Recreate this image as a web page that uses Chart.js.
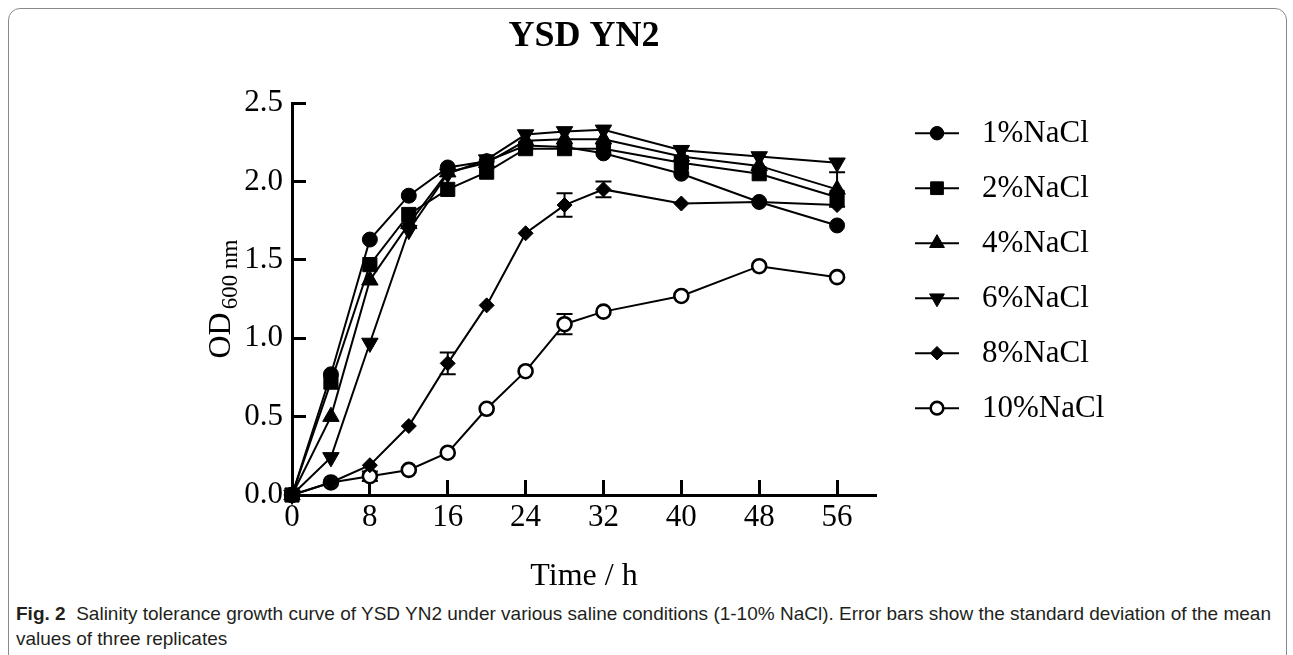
<!DOCTYPE html>
<html>
<head>
<meta charset="utf-8">
<script src="https://cdn.jsdelivr.net/npm/chart.js@4.4.1/dist/chart.umd.min.js"></script>
<style>
  html, body { margin:0; padding:0; background:#fff; }
  body { width:1293px; height:655px; position:relative; overflow:hidden; }
  #frame { position:absolute; left:8px; top:8px; width:1279px; height:700px; border:1.5px solid #8a8a8a; border-radius:12px; box-sizing:border-box; }
  #wrap { position:absolute; left:0; top:0; width:1293px; height:600px; }
  #cap { position:absolute; left:16px; top:601px; font-family:'Liberation Sans', Arial, sans-serif; font-size:19px; line-height:25px; color:#231f20; white-space:nowrap; }
</style>
</head>
<body>
<div id="frame"></div>
<div id="wrap"><canvas id="c"></canvas></div>
<div id="cap"><b>Fig. 2</b>&nbsp; Salinity tolerance growth curve of YSD YN2 under various saline conditions (1-10% NaCl). Error bars show the standard deviation of the mean<br>values of three replicates</div>
<script>
// ---- data ----
const hours = [0, 4, 8, 12, 16, 20, 24, 28, 32, 40, 48, 56];
const seriesNames = ['1%NaCl', '2%NaCl', '4%NaCl', '6%NaCl', '8%NaCl', '10%NaCl'];
const od1  = [0, 0.77, 1.63, 1.91, 2.09, 2.13, 2.23, 2.22, 2.18, 2.05, 1.87, 1.72];
const od2  = [0, 0.72, 1.47, 1.79, 1.95, 2.06, 2.21, 2.21, 2.21, 2.12, 2.05, 1.90];
const od4  = [0, 0.50, 1.37, 1.73, 2.06, 2.12, 2.26, 2.27, 2.27, 2.16, 2.10, 1.95];
const od6  = [0, 0.24, 0.97, 1.69, 2.05, 2.14, 2.30, 2.32, 2.33, 2.20, 2.16, 2.12];
const od8  = [0, 0.08, 0.19, 0.44, 0.84, 1.21, 1.67, 1.85, 1.95, 1.86, 1.87, 1.85];
const od10 = [0, 0.08, 0.12, 0.16, 0.27, 0.55, 0.79, 1.09, 1.17, 1.27, 1.46, 1.39];
const err4  = [0, 0, 0, 0, 0, 0, 0, 0, 0, 0, 0, 0.11];
const err8  = [0, 0, 0, 0, 0.07, 0, 0, 0.075, 0.05, 0, 0, 0];
const err10 = [0, 0, 0.03, 0, 0, 0, 0, 0.065, 0, 0, 0, 0];
const xTickMax = 60;
const yTickMax = 2.5;

const FONT = "'Liberation Serif', 'Times New Roman', serif";
Chart.defaults.font.family = FONT;
Chart.defaults.color = '#000';

function pts(vals) { return hours.map((h, i) => ({ x: h, y: vals[i] })); }

const styles = [
  { pointStyle: 'circle',  pointRadius: 7.5, rot: 0,   bg: '#000', bw: 1 },
  { pointStyle: 'rect',    pointRadius: 10,  rot: 0,   bg: '#000', bw: 1 },
  { pointStyle: 'triangle',pointRadius: 9.5, rot: 0,   bg: '#000', bw: 1 },
  { pointStyle: 'triangle',pointRadius: 9.5, rot: 180, bg: '#000', bw: 1 },
  { pointStyle: 'rectRot', pointRadius: 7.5, rot: 0,   bg: '#000', bw: 1 },
  { pointStyle: 'circle',  pointRadius: 7,   rot: 0,   bg: '#fff', bw: 2.6 }
];
const allVals = [od1, od2, od4, od6, od8, od10];

const datasets = allVals.map((v, i) => ({
  label: seriesNames[i],
  data: pts(v),
  borderColor: '#000',
  borderWidth: 2,
  backgroundColor: styles[i].bg,
  pointStyle: styles[i].pointStyle,
  pointRadius: styles[i].pointRadius,
  pointHoverRadius: styles[i].pointRadius,
  pointRotation: styles[i].rot,
  pointBackgroundColor: styles[i].bg,
  pointBorderColor: '#000',
  pointBorderWidth: styles[i].bw,
  tension: 0,
  clip: false
}));

const errorSets = [
  { values: od4, errors: err4 },
  { values: od8, errors: err8 },
  { values: od10, errors: err10 }
];

const errorBars = {
  id: 'errorBars',
  beforeDatasetsDraw(chart) {
    const { ctx, scales: { x, y } } = chart;
    ctx.save();
    ctx.strokeStyle = '#000';
    ctx.lineWidth = 2;
    errorSets.forEach(({ values, errors }) => {
      hours.forEach((h, i) => {
        const e = errors[i];
        if (!e) return;
        const px = x.getPixelForValue(h);
        const t = y.getPixelForValue(values[i] + e);
        const b = y.getPixelForValue(values[i] - e);
        ctx.beginPath();
        ctx.moveTo(px, t); ctx.lineTo(px, b);
        ctx.moveTo(px - 8, t); ctx.lineTo(px + 8, t);
        ctx.moveTo(px - 8, b); ctx.lineTo(px + 8, b);
        ctx.stroke();
      });
    });
    ctx.restore();
  }
};

const sideLegend = {
  id: 'sideLegend',
  afterDraw(chart) {
    const { ctx, chartArea } = chart;
    ctx.save();
    chart.data.datasets.forEach((ds, i) => {
      const x0 = chartArea.right + 39;
      const yy = chartArea.top + 30 + i * 55;
      ctx.strokeStyle = '#000';
      ctx.lineWidth = 2;
      ctx.beginPath(); ctx.moveTo(x0, yy); ctx.lineTo(x0 + 44, yy); ctx.stroke();
      ctx.fillStyle = ds.pointBackgroundColor;
      ctx.strokeStyle = '#000';
      ctx.lineWidth = ds.pointBorderWidth;
      Chart.helpers.drawPoint(ctx, {
        pointStyle: ds.pointStyle,
        radius: ds.pointRadius * 0.9,
        rotation: ds.pointRotation,
        borderWidth: ds.pointBorderWidth
      }, x0 + 22, yy);
      ctx.fillStyle = '#000';
      ctx.font = '31px ' + FONT;
      ctx.textAlign = 'left';
      ctx.textBaseline = 'middle';
      ctx.fillText(ds.label, x0 + 67, yy + 1);
    });
    ctx.restore();
  }
};

const yTitle = {
  id: 'yTitle',
  afterDraw(chart) {
    const { ctx, chartArea } = chart;
    ctx.save();
    ctx.fillStyle = '#000';
    ctx.font = '32px ' + FONT;
    const w1 = ctx.measureText('OD').width;
    ctx.font = '23px ' + FONT;
    const w2 = ctx.measureText('600 nm').width;
    const total = w1 + 3 + w2;
    const cy = (chartArea.top + chartArea.bottom) / 2;
    ctx.translate(chartArea.left - 62, cy + total / 2);
    ctx.rotate(-Math.PI / 2);
    ctx.textAlign = 'left';
    ctx.textBaseline = 'alphabetic';
    ctx.font = '32px ' + FONT;
    ctx.fillText('OD', 0, 0);
    ctx.font = '23px ' + FONT;
    ctx.fillText('600 nm', w1 + 3, 7);
    ctx.restore();
  }
};

new Chart(document.getElementById('c'), {
  type: 'line',
  data: { datasets },
  plugins: [errorBars, sideLegend, yTitle],
  options: {
    responsive: true,
    maintainAspectRatio: false,
    animation: false,
    events: [],
    layout: { padding: { left: 0, right: 417, top: 0, bottom: 0 } },
    plugins: {
      legend: { display: false },
      tooltip: { enabled: false },
      title: {
        display: true,
        text: 'YSD YN2',
        fullSize: false,
        color: '#000',
        font: { family: FONT, size: 36, weight: 'bold' },
        padding: { top: 15, bottom: 45 }
      }
    },
    scales: {
      x: {
        type: 'linear',
        min: 0,
        max: xTickMax,
        afterFit(s) { s.height = 105; },
        border: { display: true, color: '#000', width: 3 },
        grid: { display: true, drawOnChartArea: false, drawTicks: true, tickLength: -15, tickWidth: 3, tickColor: '#000' },
        ticks: { stepSize: 8, includeBounds: false, padding: 19, color: '#000', font: { family: FONT, size: 31 }, maxRotation: 0 },
        title: { display: true, text: 'Time / h', color: '#000', font: { family: FONT, size: 32 }, padding: { top: 4, bottom: 4 } }
      },
      y: {
        type: 'linear',
        min: 0,
        max: yTickMax,
        afterFit(s) { s.width = 292; },
        border: { display: true, color: '#000', width: 3 },
        grid: { display: true, drawOnChartArea: false, drawTicks: true, tickLength: -14, tickWidth: 3, tickColor: '#000' },
        ticks: { stepSize: 0.5, padding: 23, color: '#000', font: { family: FONT, size: 31 }, callback: v => v.toFixed(1) }
      }
    }
  }
});
</script>
</body>
</html>
